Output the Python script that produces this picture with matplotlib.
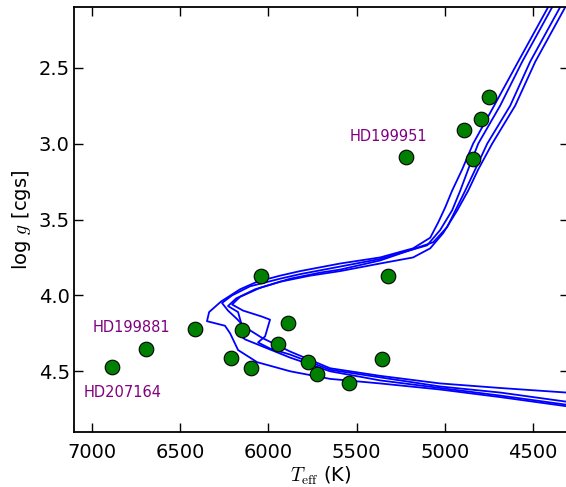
import matplotlib
matplotlib.use('Agg')
import matplotlib.pyplot as plt

# stellar parameters of the sample
teff = [6885, 6692, 6413, 6041, 6147, 6209, 6096, 5943, 5886, 5773,
        5726, 5543, 5354, 5322, 5220, 4842, 4891, 4797, 4752]
logg = [4.47, 4.35, 4.22, 3.87, 4.23, 4.41, 4.48, 4.32, 4.18, 4.44,
        4.52, 4.58, 4.42, 3.87, 3.09, 3.10, 2.91, 2.84, 2.69]

# isochrones (Teff, log g)
iso_a_teff = [4313, 4687, 5027, 5367, 5650, 5876, 6063, 6171, 6216, 6245, 6347, 6335, 6267,
              6160, 6063, 5933, 5820, 5593, 5367, 5180, 5083, 5038, 4998, 4959, 4902,
              4840, 4721, 4585, 4415]
iso_a_logg = [4.73, 4.67, 4.62, 4.58, 4.55, 4.50, 4.44, 4.36, 4.25, 4.20, 4.17, 4.11, 4.04,
              3.96, 3.91, 3.87, 3.84, 3.79, 3.75, 3.69, 3.62, 3.52, 3.42, 3.31, 3.17,
              3.00, 2.75, 2.46, 2.10]
iso_b_teff = [4313, 4687, 5027, 5367, 5650, 5876, 6035, 6131, 6182, 6228, 6262, 6205, 6103,
              5933, 5820, 5593, 5367, 5100, 5027, 4959, 4913, 4868, 4811, 4687,
              4562, 4392]
iso_b_logg = [4.64, 4.61, 4.58, 4.53, 4.48, 4.37, 4.28, 4.21, 4.15, 4.10, 4.05, 4.00, 3.94,
              3.89, 3.86, 3.81, 3.76, 3.67, 3.57, 3.44, 3.31, 3.17, 3.00, 2.75,
              2.46, 2.10]
iso_c_teff = [4313, 4687, 5027, 5367, 5650, 5876, 5990, 6058, 6018, 5990, 6035, 6143, 6205,
              6160, 6046, 5876, 5706, 5593, 5367, 5066, 4987, 4885, 4828,
              4760, 4630, 4517, 4347]
iso_c_logg = [4.70, 4.64, 4.60, 4.54, 4.49, 4.39, 4.35, 4.31, 4.27, 4.16, 4.14, 4.10, 4.06,
              4.01, 3.95, 3.89, 3.85, 3.83, 3.77, 3.65, 3.55, 3.31, 3.17,
              3.00, 2.75, 2.46, 2.10]
iso_d_teff = [4313, 4687, 5027, 5367, 5650, 5876, 6046, 6131, 6177, 6154, 6171, 6228, 6182,
              6075, 5933, 5763, 5593, 5367, 5180, 5083, 5010, 4930, 4868, 4811,
              4732, 4602, 4488, 4318]
iso_d_logg = [4.72, 4.66, 4.61, 4.56, 4.50, 4.41, 4.33, 4.29, 4.25, 4.18, 4.11, 4.07, 4.02,
              3.96, 3.91, 3.87, 3.84, 3.79, 3.75, 3.69, 3.59, 3.44, 3.31, 3.17,
              3.00, 2.75, 2.46, 2.10]

labels = ['HD199951', 'HD199881', 'HD207164']
label_teff = [5321, 6777, 6827]
label_logg = [2.95, 4.21, 4.64]

plt.rcParams['mathtext.fontset'] = 'cm'
fig = plt.figure(figsize=(5.66, 4.87), dpi=100)
ax = fig.add_axes([74 / 566, 55 / 487, 494.5 / 566, 425 / 487])

for t, g in [(iso_a_teff, iso_a_logg), (iso_b_teff, iso_b_logg),
             (iso_c_teff, iso_c_logg), (iso_d_teff, iso_d_logg)]:
    ax.plot(t, g, '-', color='blue', lw=1.3, zorder=2)
ax.plot(teff, logg, 'o', color='green', mec='black', mew=0.8, ms=10.5, zorder=3)
for lab, t, g in zip(labels, label_teff, label_logg):
    ax.text(t, g, lab, color='purple', fontsize=10.5, ha='center', va='center')

ax.set_xlim(7100, 4300)
ax.set_ylim(4.9, 2.1)
ax.set_xticks([7000, 6500, 6000, 5500, 5000, 4500])
ax.set_yticks([2.5, 3.0, 3.5, 4.0, 4.5])
ax.tick_params(direction='in', top=True, right=True, length=6.2, width=1, labelsize=14)
ax.tick_params(axis='x', pad=8)
ax.tick_params(axis='y', pad=3)
for s in ax.spines.values():
    s.set_linewidth(1.3)
ax.set_xlabel(r'$T_{\rm eff}$ (K)', fontsize=14, labelpad=2)
ax.set_ylabel(r'log $g$ [cgs]', fontsize=14)

fig.savefig('out.png', dpi=100)
